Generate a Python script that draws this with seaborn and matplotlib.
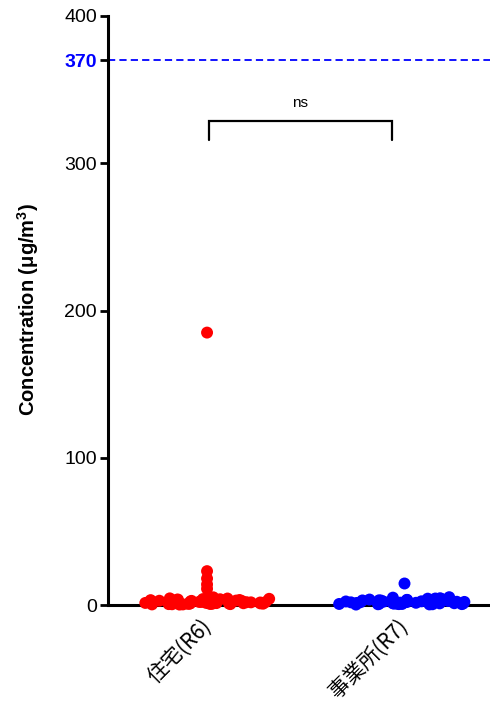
import matplotlib
matplotlib.use("Agg")
import matplotlib.pyplot as plt
import matplotlib.transforms as mtransforms
import seaborn as sns
import numpy as np
import pandas as pd

categories = ["住宅(R6)", "事業所(R7)"]
red_base = [0.4, 1.2, 2.1, 3.0, 4.2, 0.8, 1.6, 2.6, 3.6, 4.8, 0.6, 1.9, 2.8, 3.3, 0.3,
            1.1, 4.5, 2.3, 0.9, 1.4, 3.9, 2.0, 0.5, 5.2, 1.7, 2.9, 0.7, 3.4, 1.0, 4.0,
            0.6, 1.5, 2.4, 3.1, 0.9, 1.8, 2.7, 0.4, 1.3, 3.7, 2.2, 0.8, 4.4, 1.1, 2.5]
red_high = [185.0, 23.0, 18.0, 14.0, 11.0]
blue_base = [0.5, 1.3, 2.2, 3.1, 4.0, 0.9, 1.7, 2.5, 3.5, 5.0, 0.7, 1.8, 2.9, 3.4, 0.4,
             1.0, 4.3, 2.4, 0.8, 1.5, 3.7, 2.1, 0.6, 5.3, 1.6, 2.7, 0.3, 3.2, 1.2, 4.4,
             0.7, 1.4, 2.3, 3.0, 0.5, 1.9, 2.6, 0.9, 1.1, 3.8, 2.0, 0.6, 4.6, 1.2, 2.8]
blue_high = [15.0]
ref_value = 370
yticks = [0, 100, 200, 300, 400]
ylabel = "Concentration (μg/m$^{\\mathbf{3}}$)"
sig_text = "ns"

sns.set_style("ticks")
plt.rcParams["font.family"] = ["Liberation Sans", "Noto Sans CJK JP", "DejaVu Sans"]
plt.rcParams["mathtext.fontset"] = "custom"
plt.rcParams["mathtext.bf"] = "Liberation Sans:bold"
plt.rcParams["mathtext.rm"] = "Liberation Sans"
plt.rcParams["text.color"] = "black"
plt.rcParams["xtick.color"] = "black"
plt.rcParams["ytick.color"] = "black"
plt.rcParams["axes.labelcolor"] = "black"

base_df = pd.DataFrame({
    "group": [categories[0]] * len(red_base) + [categories[1]] * len(blue_base),
    "value": red_base + blue_base,
})
high_df = pd.DataFrame({
    "group": [categories[0]] * len(red_high) + [categories[1]] * len(blue_high),
    "value": red_high + blue_high,
})
palette = {categories[0]: "#FF0000", categories[1]: "#0000FF"}

fig = plt.figure(figsize=(4.9, 7.02), dpi=100)
ax = fig.add_axes([108 / 490, 1 - 605 / 702, 382 / 490, 589 / 702])

np.random.seed(7)
sns.stripplot(data=base_df, x="group", y="value", hue="group", palette=palette,
              order=categories, jitter=0.33, size=8.6, linewidth=0, ax=ax, legend=False,
              clip_on=False, zorder=3)
sns.stripplot(data=high_df, x="group", y="value", hue="group", palette=palette,
              order=categories, jitter=False, size=8.6, linewidth=0, ax=ax,
              legend=False, clip_on=False, zorder=3)

ax.set_xlim(-0.503, 1.437)
ax.set_ylim(0, 400)

ax.axhline(ref_value, color="#0000FF", linestyle=(0, (4, 2.3)), linewidth=1.3, zorder=1)

ax.set_yticks(yticks + [ref_value])
labels = [str(t) for t in yticks] + [str(ref_value)]
ax.set_yticklabels(labels)
ax.tick_params(axis="y", length=6, width=2, pad=2, colors="black", labelsize=14)
for lbl in ax.get_yticklabels():
    if lbl.get_text() == str(ref_value):
        lbl.set_color("#0000FF")
        lbl.set_fontweight("bold")

ax.set_xticks(range(len(categories)))
ax.set_xticklabels(categories, rotation=45, ha="right", rotation_mode="anchor",
                   fontsize=15, family=["Noto Sans CJK JP", "DejaVu Sans"])
ax.tick_params(axis="x", length=3, width=1.5, pad=3)
offset = mtransforms.ScaledTranslation(-7 / 100, -2 / 100, fig.dpi_scale_trans)
for lbl in ax.get_xticklabels():
    lbl.set_transform(lbl.get_transform() + offset)

for s in ["left", "bottom"]:
    ax.spines[s].set_linewidth(2.2)
    ax.spines[s].set_color("black")
sns.despine(ax=ax)

ax.set_xlabel("")
ax.set_ylabel("")
fig.text(28 / 490, 1 - 309 / 702, ylabel, rotation=90, ha="center", va="center",
         fontsize=14.5, fontweight="bold")

# significance bracket
x1, x2 = 0.0075, 0.94
ytop, ybot = 328.5, 316
ax.plot([x1, x1, x2, x2], [ybot, ytop, ytop, ybot], color="black", linewidth=1.6,
        solid_joinstyle="miter")
ax.text((x1 + x2) / 2, 336, sig_text, ha="center", va="bottom", fontsize=11)

fig.savefig("out.png", dpi=100)
